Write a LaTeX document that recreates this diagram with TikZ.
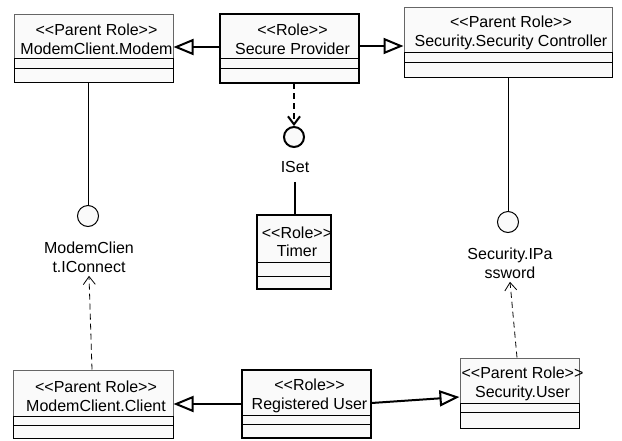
\documentclass[tikz,border=0pt]{standalone}
\usepackage{fontspec}
\newfontfamily\umlfont{Liberation Sans}
\usetikzlibrary{arrows.meta,fit,calc}
\tikzset{
 hdr/.style={draw=black!60, line width=1pt, fill=black!2, inner sep=0pt},
 comp/.style={draw=black, line width=1pt, fill=black!2},
 outerbox/.style={draw=black, line width=2.2pt},
 thinbox/.style={draw=none},
 txt/.style={align=center, inner sep=0pt},
 gen/.style={line width=2pt, -{Triangle[open, length=20pt, width=16pt, fill=white]}},
 dep/.style={line width=0.8pt, dash pattern=on 6pt off 4pt, -{Straight Barb[length=8pt,width=12pt]}},
 depthick/.style={line width=2pt, dash pattern=on 6pt off 4pt, -{Straight Barb[length=8pt,width=12pt]}},
 lolli/.style={circle, draw, line width=1pt, fill=black!2, minimum size=21pt, inner sep=0pt},
 lab/.style={align=center, inner sep=3pt},
}
\newcommand\umlbox[9]{%
 \node[hdr, fit={(#2,#3) (#4,#5)}] (#1) {};
 \draw[comp] (#2,#5) rectangle (#4,#6);
 \draw[comp] (#2,#6) rectangle (#4,#7);
 \draw[#9] (#2,#3) rectangle (#4,#7);
 \coordinate (#1-bl) at (#2,#7);
 \node[txt] (#1-t) at ([xshift=3pt,yshift=-3.5pt]#1.center) {#8};
}
\begin{document}
\begin{tikzpicture}[x=1pt,y=-1pt, font=\umlfont\fontsize{16}{18.5}\selectfont]
\useasboundingbox (0,0) rectangle (622,440);
\umlbox{modem}{14}{14}{173}{58}{68}{82}{<<Parent Role>>\\ModemClient.Modem}{thinbox}
\umlbox{sp}{220}{14}{359}{58}{68}{83}{<<Role>>\\Secure Provider}{outerbox}
\umlbox{sc}{404}{7}{612}{52}{62}{77}{<<Parent Role>>\\Security.Security Controller}{thinbox}
\umlbox{timer}{257}{215}{331}{262}{276}{289}{<<Role>>\\Timer}{outerbox}
\umlbox{client}{13}{370}{173}{416}{425}{438}{<<Parent Role>>\\ModemClient.Client}{thinbox}
\umlbox{ru}{242}{370}{371}{415}{424}{438}{<<Role>>\\Registered User}{outerbox}
\umlbox{suser}{460}{358}{579}{403}{412}{428}{<<Parent Role>>\\Security.User}{thinbox}

% lollipops
\node[lolli] (c1) at (88,216) {};
\node[lolli] (c2) at (508,222) {};
\node[lolli, line width=2pt, minimum size=20pt] (iset) at (294,137) {};
\node[lab] (c1lab) at (89,257.5) {ModemClien\\t.IConnect};
\node[lab] (c2lab) at (510,263.5) {Security.IPa\\ssword};
\node[lab] (isetlab) at (295,167) {ISet};

% connectors
\draw[line width=1pt] (c1 |- modem-bl) -- (c1.north);
\draw[line width=1pt] (c2 |- sc-bl) -- (c2.north);
\draw[depthick] (iset |- sp-bl) -- (iset.north);
\draw[line width=2pt] ([yshift=-6pt]isetlab.south) -- (isetlab.south |- timer.north);
\draw[dep] ([xshift=-1pt]client.north) -- (c1lab.south);
\draw[dep] ([xshift=-2.5pt]suser.north) -- (c2lab.south);

\draw[gen] ([yshift=-11pt]sp.west) -- ([yshift=-11pt]sp.west -| modem.east);
\draw[gen] ([yshift=-10pt]sp.east) -- ([yshift=-10pt]sp.east -| sc.west);
\draw[gen] ([yshift=-11.5pt]ru.west) -- ([yshift=-11.5pt]ru.west -| client.east);
\draw[gen] ([yshift=-10.5pt]ru.east) -- ([yshift=-16.5pt]suser.west);
\end{tikzpicture}
\end{document}
